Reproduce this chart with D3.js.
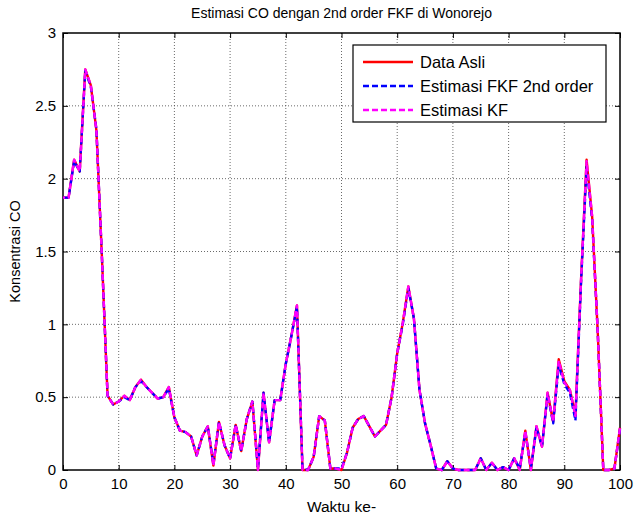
<!DOCTYPE html>
<html>
<head>
<meta charset="utf-8">
<script src="https://cdn.jsdelivr.net/npm/d3@7"></script>
<style>
  body { margin: 0; background: #fff; }
  text { font-family: "Liberation Sans", Arial, sans-serif; }
</style>
</head>
<body>
<svg id="chart"></svg>
<script>
// DATA ////////////////////////////////////////////////////////////////
var waktu = d3.range(0, 101);

var data_asli = [1.87, 1.87, 2.13, 2.05, 2.75, 2.64, 2.33, 1.45, 0.51, 0.45,
    0.47, 0.51, 0.48, 0.57, 0.62, 0.57, 0.53, 0.49, 0.50, 0.57,
    0.36, 0.27, 0.26, 0.23, 0.10, 0.23, 0.30, 0.03, 0.33, 0.17,
    0.08, 0.31, 0.13, 0.35, 0.47, 0.00, 0.53, 0.19, 0.48, 0.48,
    0.73, 0.92, 1.13, 0.00, 0.00, 0.09, 0.37, 0.34, 0.01, 0.01,
    0.00, 0.12, 0.29, 0.35, 0.37, 0.30, 0.23, 0.27, 0.31, 0.50,
    0.80, 1.01, 1.26, 1.04, 0.55, 0.32, 0.17, 0.01, 0.00, 0.06,
    0.01, 0.00, 0.00, 0.00, 0.00, 0.08, 0.00, 0.05, 0.00, 0.02,
    0.00, 0.08, 0.00, 0.27, 0.00, 0.30, 0.16, 0.53, 0.33, 0.76,
    0.61, 0.55, 0.38, 1.30, 2.13, 1.74, 0.95, 0.00, 0.00, 0.01,
    0.29];

var est_fkf = [1.87, 1.87, 2.12, 2.05, 2.74, 2.63, 2.34, 1.45, 0.51, 0.45,
    0.47, 0.50, 0.48, 0.57, 0.61, 0.57, 0.53, 0.49, 0.50, 0.56,
    0.36, 0.27, 0.26, 0.23, 0.10, 0.23, 0.30, 0.04, 0.33, 0.17,
    0.08, 0.31, 0.13, 0.35, 0.47, 0.01, 0.53, 0.19, 0.48, 0.48,
    0.73, 0.92, 1.12, 0.01, 0.00, 0.09, 0.37, 0.34, 0.01, 0.01,
    0.01, 0.12, 0.29, 0.35, 0.37, 0.30, 0.23, 0.27, 0.31, 0.50,
    0.80, 1.00, 1.25, 1.04, 0.55, 0.32, 0.17, 0.01, 0.00, 0.06,
    0.01, 0.00, 0.00, 0.00, 0.00, 0.08, 0.00, 0.05, 0.00, 0.02,
    0.00, 0.08, 0.01, 0.26, 0.01, 0.29, 0.16, 0.52, 0.32, 0.72,
    0.59, 0.53, 0.34, 1.28, 2.08, 1.72, 0.95, 0.00, 0.00, 0.01,
    0.28];

var est_kf = [1.87, 1.87, 2.13, 2.05, 2.75, 2.64, 2.33, 1.45, 0.51, 0.45,
    0.47, 0.51, 0.48, 0.57, 0.62, 0.57, 0.53, 0.49, 0.50, 0.57,
    0.36, 0.27, 0.26, 0.23, 0.10, 0.23, 0.30, 0.03, 0.33, 0.17,
    0.08, 0.31, 0.13, 0.35, 0.47, 0.00, 0.53, 0.19, 0.48, 0.48,
    0.73, 0.92, 1.13, 0.00, 0.00, 0.09, 0.37, 0.34, 0.01, 0.01,
    0.00, 0.12, 0.29, 0.35, 0.37, 0.30, 0.23, 0.27, 0.31, 0.50,
    0.80, 1.01, 1.26, 1.04, 0.55, 0.32, 0.17, 0.01, 0.00, 0.06,
    0.01, 0.00, 0.00, 0.00, 0.00, 0.08, 0.00, 0.05, 0.00, 0.02,
    0.00, 0.08, 0.00, 0.27, 0.00, 0.30, 0.16, 0.53, 0.33, 0.75,
    0.60, 0.55, 0.37, 1.30, 2.12, 1.74, 0.95, 0.00, 0.00, 0.01,
    0.29];

var x_ticks = [0, 10, 20, 30, 40, 50, 60, 70, 80, 90, 100];
var y_ticks = [0, 0.5, 1, 1.5, 2, 2.5, 3];

var series_names = ["Data Asli", "Estimasi FKF 2nd order", "Estimasi KF"];

// SETUP ///////////////////////////////////////////////////////////////
const W = 634, H = 518;
const LEFT = 63, RIGHT = 14, TOP = 33, BOTTOM = 48;
const PW = W - LEFT - RIGHT, PH = H - TOP - BOTTOM;

var svg = d3.select('#chart').attr('width', W).attr('height', H);
var g = svg.append("g").attr("transform", "translate(" + LEFT + "," + TOP + ")");

var x = d3.scaleLinear().domain([0, 100]).range([0, PW]);
var y = d3.scaleLinear().domain([0, 3]).range([PH, 0]);

// grid
g.append("g").selectAll("line")
    .data(x_ticks.slice(1, -1))
    .enter().append("line")
    .attr("x1", function (d) { return x(d) }).attr("x2", function (d) { return x(d) })
    .attr("y1", 0).attr("y2", PH)
    .attr("stroke", "#444").attr("stroke-width", 0.8).attr("stroke-dasharray", "1,2");

g.append("g").selectAll("line")
    .data(y_ticks.slice(1, -1))
    .enter().append("line")
    .attr("y1", function (d) { return y(d) }).attr("y2", function (d) { return y(d) })
    .attr("x1", 0).attr("x2", PW)
    .attr("stroke", "#444").attr("stroke-width", 0.8).attr("stroke-dasharray", "1,2");

// axes (ticks inside, box on)
function styleAxis(sel) {
    sel.select(".domain").remove();
    sel.selectAll("line").attr("stroke", "#000");
    sel.selectAll("text").style("font-size", "15px").attr("fill", "#000")
        .style("font-family", '"Liberation Sans", Arial, sans-serif');
}

g.append("g").attr("transform", "translate(0," + PH + ")")
    .call(d3.axisBottom(x).tickValues(x_ticks).tickSize(-5).tickPadding(8).tickFormat(d3.format("d")))
    .call(styleAxis);
g.append("g")
    .call(d3.axisTop(x).tickValues(x_ticks).tickSize(-5).tickFormat(""))
    .call(styleAxis);
g.append("g")
    .call(d3.axisLeft(y).tickValues(y_ticks).tickSize(-5).tickPadding(7).tickFormat(d3.format("")))
    .call(styleAxis);
g.append("g").attr("transform", "translate(" + PW + ",0)")
    .call(d3.axisRight(y).tickValues(y_ticks).tickSize(-5).tickFormat(""))
    .call(styleAxis);

g.append("rect").attr("width", PW).attr("height", PH)
    .attr("fill", "none").attr("stroke", "#000").attr("stroke-width", 1.5);

// lines
var line = d3.line()
    .x(function (d, i) { return x(waktu[i]) })
    .y(function (d) { return y(d) });

var styles = [
    { color: "#ff0000", dash: null, offset: 0 },
    { color: "#0000ff", dash: "6,3", offset: 0 },
    { color: "#ff00ff", dash: "6,3", offset: 4 }
];

g.selectAll(".series")
    .data([data_asli, est_fkf, est_kf])
    .enter().append("path")
    .attr("class", "series")
    .attr("fill", "none")
    .attr("stroke", function (d, i) { return styles[i].color })
    .attr("stroke-width", 2.4)
    .attr("stroke-linejoin", "round")
    .attr("stroke-dasharray", function (d, i) { return styles[i].dash })
    .attr("stroke-dashoffset", function (d, i) { return styles[i].offset })
    .attr("d", function (d) { return line(d) });

// legend
var lg = svg.append("g").attr("transform", "translate(353,45)");
lg.append("rect").attr("width", 253).attr("height", 77)
    .attr("fill", "#fff").attr("stroke", "#000").attr("stroke-width", 1.2);

var rows = lg.selectAll(".lrow").data(series_names).enter().append("g")
    .attr("transform", function (d, i) { return "translate(0," + (17 + i * 24) + ")" });
rows.append("line").attr("x1", 10).attr("x2", 60)
    .attr("stroke", function (d, i) { return styles[i].color })
    .attr("stroke-width", 2.4)
    .attr("stroke-dasharray", function (d, i) { return styles[i].dash ? "6,3" : null });
rows.append("text").text(function (d) { return d })
    .attr("x", 67).attr("dy", "0.35em")
    .style("font-size", "16.5px").attr("fill", "#000");

// titles
svg.append("text").text("Estimasi CO dengan 2nd order FKF di Wonorejo")
    .attr("x", LEFT + PW / 2).attr("y", 18)
    .style("text-anchor", "middle").style("font-size", "14px");

svg.append("text").text("Waktu ke-")
    .attr("x", LEFT + PW / 2).attr("y", 512)
    .style("text-anchor", "middle").style("font-size", "15.5px");

svg.append("text").text("Konsentrasi CO")
    .attr("transform", "translate(20," + (TOP + PH / 2) + ") rotate(-90)")
    .style("text-anchor", "middle").style("font-size", "14.5px");
</script>
</body>
</html>
